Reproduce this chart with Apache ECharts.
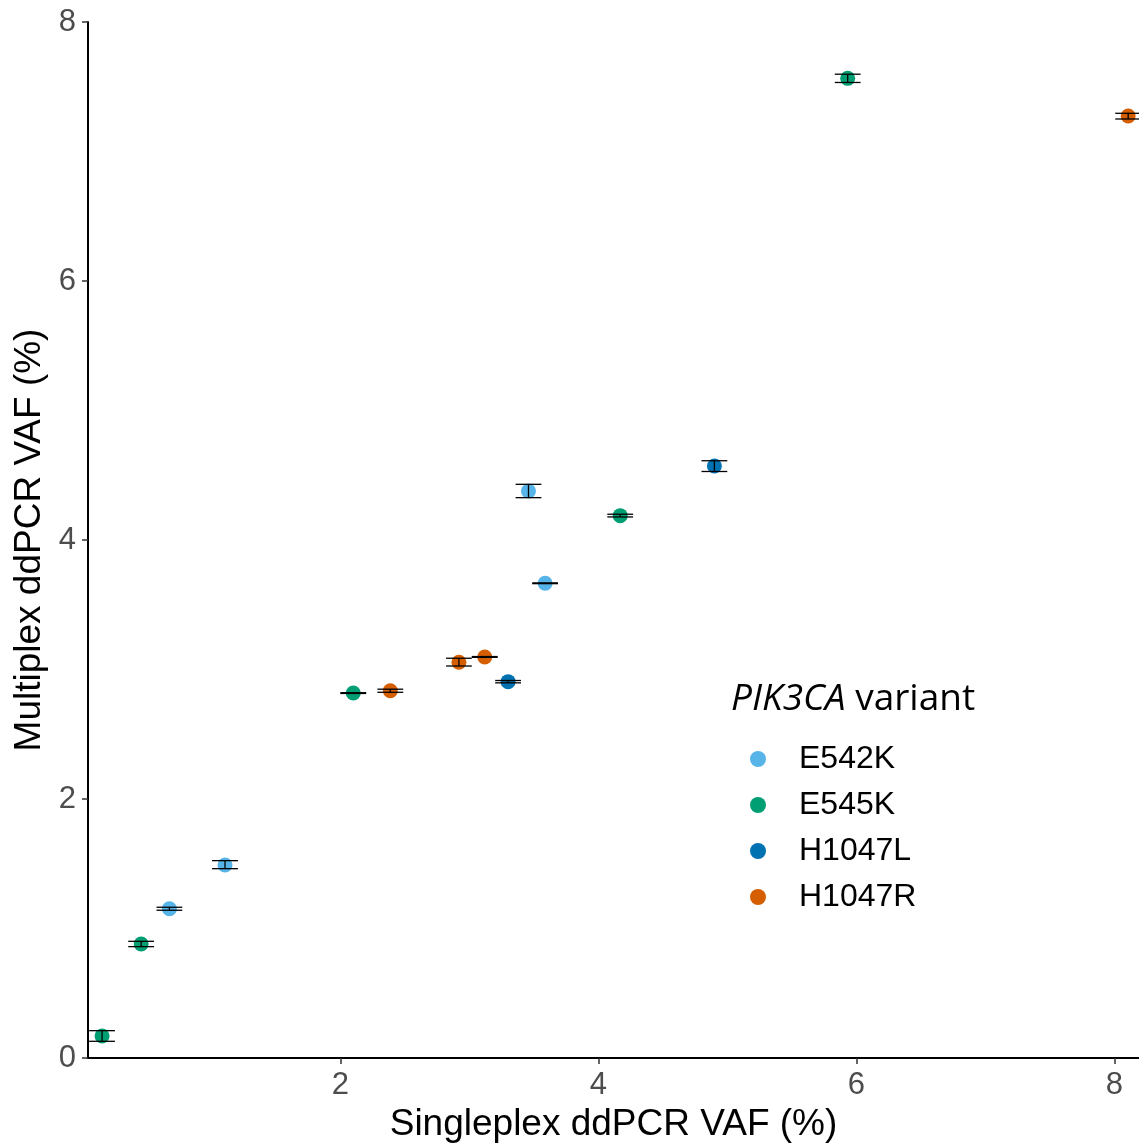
<!DOCTYPE html>
<html>
<head>
<meta charset="utf-8">
<script src="https://cdn.jsdelivr.net/npm/echarts@6/dist/echarts.min.js"></script>
<style>
    html, body { margin: 0; padding: 0; background: #fff; }
    #chart { width: 1139px; height: 1148px; }
</style>
</head>
<body>
<div id="chart"></div>
<script>
// variants, in legend order
var variantNames = ['E542K', 'E545K', 'H1047L', 'H1047R'];
var variantColors = ['#56B4E9', '#009E73', '#0072B2', '#D55E00'];

// [singleplex VAF, multiplex VAF, multiplex low, multiplex high]
var e542k = [
    [0.675, 1.153, 1.141, 1.164],
    [1.106, 1.490, 1.462, 1.524],
    [3.458, 4.378, 4.327, 4.430],
    [3.587, 3.666, 3.663, 3.669]
];
var e545k = [
    [0.153, 0.170, 0.129, 0.211],
    [0.456, 0.880, 0.860, 0.901],
    [2.100, 2.818, 2.815, 2.821],
    [4.169, 4.188, 4.178, 4.199],
    [5.932, 7.565, 7.533, 7.597]
];
var h1047l = [
    [3.300, 2.906, 2.897, 2.915],
    [4.899, 4.571, 4.529, 4.612]
];
var h1047r = [
    [2.387, 2.836, 2.824, 2.848],
    [2.919, 3.056, 3.027, 3.087],
    [3.119, 3.097, 3.094, 3.100],
    [8.106, 7.274, 7.251, 7.295]
];
var variantData = [e542k, e545k, h1047l, h1047r];

var xTicks = [2, 4, 6, 8];
var yTicks = [0, 2, 4, 6, 8];

var fontFamily = "'Liberation Sans', Arial, Helvetica, sans-serif";
var titleFont = "'Open Sans', 'Noto Sans', sans-serif";
var capHalf = 0.1; // errorbar cap half width, data units

var chart = echarts.init(document.getElementById('chart'));

var series = [];
var errorData = [];
for (var i = 0; i < variantNames.length; i++) {
    var pts = [];
    for (var j = 0; j < variantData[i].length; j++) {
        var d = variantData[i][j];
        pts.push([d[0], d[1]]);
        errorData.push([d[0], d[2], d[3]]);
    }
    series.push({
        name: variantNames[i],
        type: 'scatter',
        symbol: 'circle',
        symbolSize: 15,
        itemStyle: { color: variantColors[i], opacity: 1 },
        z: 2,
        data: pts
    });
}

series.push({
    name: 'errorbars',
    type: 'custom',
    z: 3,
    silent: true,
    encode: { x: 0, y: [1, 2] },
    renderItem: function (params, api) {
        var x = api.value(0);
        var lo = api.value(1);
        var hi = api.value(2);
        var pLo = api.coord([x, lo]);
        var pHi = api.coord([x, hi]);
        var l = api.coord([x - capHalf, lo])[0];
        var r = api.coord([x + capHalf, lo])[0];
        var style = { stroke: '#000', lineWidth: 1.3 };
        return {
            type: 'group',
            children: [
                { type: 'line', shape: { x1: pLo[0], y1: pLo[1], x2: pHi[0], y2: pHi[1] }, style: style },
                { type: 'line', shape: { x1: l, y1: pLo[1], x2: r, y2: pLo[1] }, style: style },
                { type: 'line', shape: { x1: l, y1: pHi[1], x2: r, y2: pHi[1] }, style: style }
            ]
        };
    },
    data: errorData
});

var axisCommon = {
    type: 'value',
    nameLocation: 'middle',
    nameTextStyle: { color: '#000', fontSize: 37, fontFamily: fontFamily },
    splitLine: { show: false },
    axisLine: { show: true, onZero: false, lineStyle: { color: '#000', width: 2 } },
    axisTick: { show: true, length: 6, lineStyle: { color: '#333', width: 1.5 } },
    axisLabel: { color: '#4D4D4D', fontSize: 31, fontFamily: fontFamily, margin: 12 }
};

var option = {
    animation: false,
    backgroundColor: '#fff',
    grid: { left: 88, right: 0, top: 22, bottom: 90 },
    xAxis: echarts.util.merge({
        min: 0.044,
        max: 8.19,
        name: 'Singleplex ddPCR VAF (%)',
        nameGap: 48,
        axisTick: { customValues: xTicks },
        axisLabel: { customValues: xTicks }
    }, axisCommon),
    yAxis: echarts.util.merge({
        min: 0,
        max: 8,
        name: 'Multiplex ddPCR VAF (%)',
        nameGap: 39,
        axisTick: { customValues: yTicks },
        axisLabel: { customValues: yTicks }
    }, axisCommon),
    legend: {
        data: variantNames,
        orient: 'vertical',
        left: 745,
        top: 738,
        icon: 'circle',
        itemWidth: 72,
        itemHeight: 16,
        itemGap: 14,
        selectedMode: false,
        textStyle: { color: '#000', fontSize: 32, lineHeight: 30, fontFamily: fontFamily }
    },
    graphic: [{
        type: 'text',
        left: 731,
        top: 681,
        style: {
            text: '{it|PIK3CA} variant',
            font: '37px ' + titleFont,
            fill: '#000',
            rich: {
                it: { fontStyle: 'italic', fontSize: 37, fontFamily: titleFont }
            }
        }
    }],
    series: series
};

chart.setOption(option);
window.onresize = function () {
    chart.resize();
};
</script>
</body>
</html>
